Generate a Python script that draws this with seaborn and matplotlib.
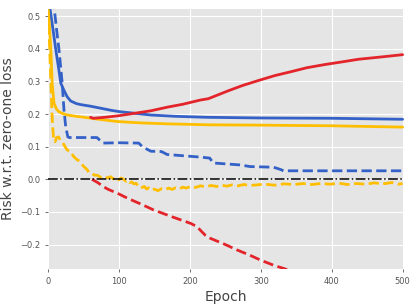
import matplotlib
matplotlib.use("Agg")
import matplotlib.pyplot as plt
import seaborn as sns
import pandas as pd

# epochs / values
blue_solid_x = [0, 3, 7, 11, 15, 18, 22, 27, 32, 40, 46, 60, 74, 90, 102, 120, 145, 180, 225, 300, 400, 500]
blue_solid_y = [0.525, 0.52, 0.46, 0.397, 0.34, 0.295, 0.275, 0.253, 0.24, 0.232, 0.229, 0.224, 0.218,
                0.211, 0.207, 0.203, 0.197, 0.193, 0.19, 0.188, 0.187, 0.184]

blue_dash_x = [0, 5, 9, 12, 15.5, 20, 22.5, 25, 28, 30, 69, 72, 78, 100, 128, 133, 145, 160, 168, 215,
               228, 233, 271, 285, 318, 328, 332, 500]
blue_dash_y = [0.6, 0.56, 0.52, 0.46, 0.397, 0.295, 0.213, 0.16, 0.13, 0.128, 0.128, 0.122, 0.111, 0.112,
               0.111, 0.1, 0.086, 0.085, 0.076, 0.068, 0.065, 0.05, 0.044, 0.039, 0.037, 0.03, 0.026, 0.026]

gold_solid_x = [0, 2, 4, 6, 8.5, 12, 15.5, 20, 27, 40, 51, 75, 98, 130, 168, 226, 300, 400, 500]
gold_solid_y = [0.525, 0.47, 0.397, 0.29, 0.233, 0.215, 0.207, 0.202, 0.197, 0.193, 0.19, 0.183, 0.177,
                0.173, 0.17, 0.167, 0.166, 0.164, 0.16]

gold_dash_x = [0, 2, 4, 6, 8, 10, 12, 15, 17, 20, 24, 27, 32, 36, 41, 45, 50, 55, 58, 62, 65, 70, 75, 80,
               84, 88, 92, 95, 100, 103, 106, 110, 112, 115, 118, 121, 124, 127, 130, 133, 136, 139, 142,
               146, 150, 155, 160, 165, 170, 175, 180, 186, 190, 195, 201, 208, 215, 222, 230, 238, 245,
               252, 260, 268, 276, 285, 295, 305, 320, 333, 346, 360, 372, 385, 398, 410, 422, 435, 448,
               460, 472, 485, 494, 500]
gold_dash_y = [0.52, 0.42, 0.3, 0.18, 0.12, 0.115, 0.128, 0.13, 0.12, 0.115, 0.1, 0.09, 0.085, 0.07, 0.06,
               0.055, 0.04, 0.03, 0.02, 0.018, 0.013, 0.012, 0.005, 0.009, 0.004, 0.008, 0.001, 0.006,
               -0.002, 0.004, 0.001, -0.006, -0.003, -0.01, -0.008, -0.014, -0.012, -0.02, -0.018, -0.025,
               -0.022, -0.03, -0.026, -0.033, -0.03, -0.035, -0.029, -0.032, -0.027, -0.031, -0.026,
               -0.029, -0.024, -0.027, -0.022, -0.025, -0.02, -0.023, -0.019, -0.022, -0.018, -0.021,
               -0.017, -0.02, -0.016, -0.019, -0.017, -0.015, -0.018, -0.014, -0.016, -0.013, -0.016,
               -0.013, -0.015, -0.012, -0.016, -0.013, -0.015, -0.011, -0.014, -0.01, -0.015, -0.013]

red_solid_x = [60, 64, 80, 100, 121, 145, 168, 190, 215, 226, 255, 275, 297, 320, 343, 365, 391, 415, 438,
               470, 500]
red_solid_y = [0.19, 0.187, 0.19, 0.195, 0.202, 0.21, 0.221, 0.23, 0.243, 0.247, 0.272, 0.288, 0.303, 0.318,
               0.33, 0.342, 0.352, 0.36, 0.368, 0.375, 0.382]

red_dash_x = [62, 70, 78, 84, 100, 112, 130, 149, 175, 201, 210, 217, 222, 229, 250, 267, 285, 300, 320,
              332, 360, 400, 450, 500]
red_dash_y = [0.0, -0.01, -0.022, -0.03, -0.045, -0.058, -0.075, -0.094, -0.115, -0.135, -0.145, -0.161,
              -0.172, -0.181, -0.2, -0.217, -0.233, -0.248, -0.265, -0.273, -0.295, -0.32, -0.35, -0.38]

BLUE = "#3461c8"
GOLD = "#ffbf00"
RED = "#e3242b"

sns.set_style("darkgrid", {"axes.facecolor": "#e5e5e5", "grid.color": "white"})

fig = plt.figure(figsize=(4.16, 3.04), dpi=100)
ax = fig.add_axes([0.1154, 0.1151, 0.8558, 0.8553])

series = [
    (blue_solid_x, blue_solid_y, BLUE, "-"),
    (blue_dash_x, blue_dash_y, BLUE, "--"),
    (gold_solid_x, gold_solid_y, GOLD, "-"),
    (gold_dash_x, gold_dash_y, GOLD, "--"),
    (red_solid_x, red_solid_y, RED, "-"),
    (red_dash_x, red_dash_y, RED, "--"),
]
for xs, ys, col, ls in series:
    df = pd.DataFrame({"epoch": xs, "risk": ys})
    sns.lineplot(data=df, x="epoch", y="risk", color=col, linestyle=ls, linewidth=2.0, ax=ax)

ax.axhline(0, color="black", linestyle="-.", linewidth=1.1)

ax.set_xlim(0, 502)
ax.set_ylim(-0.275, 0.522)
ax.set_xticks([0, 100, 200, 300, 400, 500])
ax.set_yticks([-0.2, -0.1, 0.0, 0.1, 0.2, 0.3, 0.4, 0.5])
ax.tick_params(labelsize=6, colors="#555555", length=2, width=0.6, left=True, bottom=True)
ax.set_xlabel("Epoch", fontsize=10, color="#444444", labelpad=3)
ax.set_ylabel("Risk w.r.t. zero-one loss", fontsize=10, color="#444444", labelpad=4)
for s in ax.spines.values():
    s.set_visible(False)

fig.savefig("out.png", dpi=100)
